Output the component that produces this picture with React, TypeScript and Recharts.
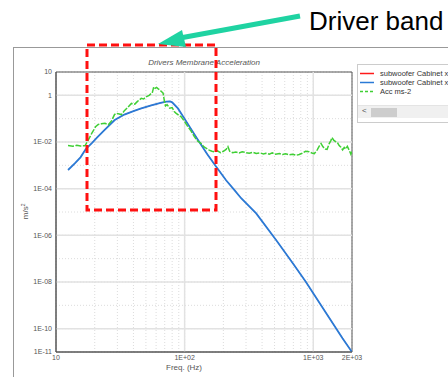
import React from "react";
import {
  LineChart,
  Line,
  XAxis,
  YAxis,
  CartesianGrid,
  ReferenceLine,
  ReferenceArea,
} from "recharts";

// frequency axis (Hz)
const xTicks = [10, 20, 30, 40, 50, 60, 70, 80, 90, 100, 200, 300, 400, 500, 600, 700, 800, 900, 1000, 2000];
const xTickLabels: Record<number, string> = { 10: "10", 100: "1E+02", 1000: "1E+03", 2000: "2E+03" };
const xMajor = [100, 1000];

// acceleration axis (m/s²)
const yTicks = [10, 1, 1e-1, 1e-2, 1e-3, 1e-4, 1e-5, 1e-6, 1e-7, 1e-8, 1e-9, 1e-10, 1e-11];
const yTickLabels = ["10", "1", "", "1E-02", "", "1E-04", "", "1E-06", "", "1E-08", "", "1E-10", "1E-11"];
const yMajor = [1, 1e-2, 1e-4, 1e-6, 1e-8, 1e-10];

// subwoofer cabinet (blue)
const cabFreq = [12.4, 14, 15.5, 17, 19, 21, 24, 28.6, 34, 40, 46, 55, 65, 72, 77, 80, 88.7, 100, 127, 150, 176, 210, 244, 275, 360, 514, 700, 877, 1200, 1687, 2000];
const cabAcc = [6.3e-4, 1.2e-3, 2.2e-3, 4.9e-3, 9e-3, 1.6e-2, 3.4e-2, 8.7e-2, 0.15, 0.21, 0.275, 0.37, 0.47, 0.54, 0.55, 0.5, 0.275, 0.098, 0.0123, 3.0e-3, 8.7e-4, 2.3e-4, 8.7e-5, 3.9e-5, 8.7e-6, 6.3e-7, 5.9e-8, 1.0e-8, 7e-10, 3.9e-11, 1e-11];

// measured Acc ms-2 (green)
const accFreq = [12.4, 13.5, 14.5, 15.5, 16.8, 17.8, 19, 20.3, 21.3, 22.5, 24, 25.5, 27, 28.5, 29.5, 31, 32.3, 34, 36, 38.6, 41, 43, 46, 48, 50, 53, 55, 56, 57.5, 59, 60.5, 62, 64, 66, 68, 69.5, 71, 73, 76.6, 80, 83, 86, 90, 94, 100, 106, 112, 119, 126, 134, 140, 147, 155, 163, 171, 180, 190, 200, 210, 217, 224, 236, 250, 265, 280, 300, 318, 340, 360, 385, 410, 428, 455, 480, 510, 545, 577, 610, 650, 690, 735, 777, 820, 870, 930, 975, 1020, 1070, 1110, 1150, 1190, 1240, 1280, 1330, 1370, 1400, 1440, 1490, 1540, 1590, 1640, 1690, 1740, 1790, 1840, 1900, 1960, 2000];
const accVal = [7.0e-3, 6.6e-3, 7.2e-3, 6.8e-3, 6.9e-3, 1.2e-2, 2.4e-2, 4.5e-2, 5.6e-2, 6.0e-2, 6.3e-2, 5.5e-2, 8.0e-2, 0.15, 0.17, 0.16, 0.15, 0.22, 0.3, 0.45, 0.42, 0.55, 0.74, 0.7, 0.85, 1.0, 1.2, 1.25, 2.3, 2.0, 2.2, 1.95, 1.7, 1.45, 1.25, 0.6, 0.35, 0.4, 0.28, 0.3, 0.2, 0.17, 0.14, 0.12, 0.075, 0.045, 0.03, 0.017, 0.011, 0.0087, 0.0065, 0.0054, 0.0045, 0.004, 0.0038, 0.0042, 0.0035, 0.004, 0.0048, 0.0063, 0.004, 0.0035, 0.0037, 0.0034, 0.0038, 0.0035, 0.0033, 0.0036, 0.0032, 0.0034, 0.0031, 0.0033, 0.003, 0.0034, 0.003, 0.0032, 0.0029, 0.0031, 0.0028, 0.003, 0.0027, 0.0029, 0.0033, 0.004, 0.0038, 0.0034, 0.0032, 0.0045, 0.0065, 0.0085, 0.0062, 0.005, 0.0048, 0.0085, 0.0115, 0.0155, 0.012, 0.0105, 0.0095, 0.007, 0.006, 0.0046, 0.0058, 0.005, 0.0065, 0.0045, 0.003, 0.004];

const cabData = cabFreq.map((f, i) => ({ f, v: cabAcc[i] }));
const accData = accFreq.map((f, i) => ({ f, v: accVal[i] }));

const legendItems = [
  { name: "subwoofer Cabinet x", color: "#ff1a1a", dash: "" },
  { name: "subwoofer Cabinet x", color: "#2a7ad6", dash: "" },
  { name: "Acc ms-2", color: "#3fcf34", dash: "3 2" },
];

const tickStyle = { fontSize: 7, fill: "#555", fontFamily: "Liberation Sans, Arial, sans-serif" };

export default function App() {
  return (
    <div style={{ position: "absolute", left: 0, top: 0, width: 448, height: 377, overflow: "hidden", background: "#fff", fontFamily: "Liberation Sans, Arial, sans-serif" }}>
      {/* outer panel frame */}
      <div style={{ position: "absolute", left: 13, top: 47, width: 460, height: 360, border: "1px solid #999" }} />
      <div style={{ position: "absolute", left: 56, top: 58, width: 296, textAlign: "center", fontSize: 8, fontStyle: "italic", color: "#555" }}>
        Drivers Membrane Acceleration
      </div>
      <LineChart width={448} height={377} margin={{ top: 72, right: 96, bottom: 0, left: 0 }} style={{ position: "absolute", left: 0, top: 0 }}>
        <CartesianGrid stroke="#dcdcdc" strokeDasharray="1 2" />
        <XAxis
          dataKey="f"
          type="number"
          scale="log"
          domain={[10, 2000]}
          allowDataOverflow
          ticks={xTicks}
          interval={0}
          tickFormatter={(v: number) => xTickLabels[v] ?? ""}
          tick={tickStyle}
          tickLine={false}
          tickSize={2}
          tickMargin={1}
          height={25}
          axisLine={{ stroke: "#555" }}
        />
        <YAxis
          type="number"
          scale="log"
          domain={[1e-11, 10]}
          allowDataOverflow
          ticks={yTicks}
          interval={0}
          tickFormatter={(v: number) => yTickLabels[yTicks.indexOf(v)] ?? ""}
          tick={tickStyle}
          tickLine={false}
          tickSize={2}
          tickMargin={2}
          width={56}
          axisLine={{ stroke: "#555" }}
        />
        {xMajor.map((x) => (
          <ReferenceLine key={"x" + x} x={x} stroke="#e2e2e2" strokeWidth={1.5} />
        ))}
        {yMajor.map((y) => (
          <ReferenceLine key={"y" + y} y={y} stroke="#e2e2e2" strokeWidth={1.5} />
        ))}
        <ReferenceArea x1={10} x2={2000} y1={1e-11} y2={10} fill="none" stroke="#555" strokeWidth={1} ifOverflow="visible" />
        <Line data={cabData} dataKey="v" stroke={legendItems[0].color} strokeWidth={0.8} dot={false} isAnimationActive={false} />
        <Line data={cabData} dataKey="v" stroke={legendItems[1].color} strokeWidth={1.8} dot={false} isAnimationActive={false} />
        <Line data={accData} dataKey="v" stroke={legendItems[2].color} strokeWidth={1.5} strokeDasharray="6 1.5" dot={false} isAnimationActive={false} />
      </LineChart>
      {/* axis titles */}
      <div style={{ position: "absolute", left: 5, top: 206, transform: "rotate(-90deg)", fontSize: 8, color: "#555", width: 40, textAlign: "center" }}>
        m/s<sup style={{ fontSize: 5 }}>2</sup>
      </div>
      <div style={{ position: "absolute", left: 56, top: 363, width: 256, textAlign: "center", fontSize: 8, color: "#555" }}>Freq. (Hz)</div>
      {/* legend panel */}
      <div style={{ position: "absolute", left: 357, top: 64, width: 100, height: 57, border: "1px solid #ccc", background: "#fff", overflow: "hidden" }}>
        {legendItems.map((it, i) => (
          <div key={i} style={{ position: "absolute", left: 0, top: 4 + i * 9, height: 9, display: "flex", alignItems: "center", whiteSpace: "nowrap", fontSize: 7.5, color: "#333" }}>
            <svg width={20} height={9}>
              <line x1={2} x2={16} y1={4.5} y2={4.5} stroke={it.color} strokeWidth={1.5} strokeDasharray={it.dash} />
            </svg>
            <span style={{ marginLeft: 2 }}>{it.name}</span>
          </div>
        ))}
        <div style={{ position: "absolute", left: 0, top: 40, width: 100, height: 12, background: "#f0f0f0", borderTop: "1px solid #e4e4e4" }}>
          <span style={{ position: "absolute", left: 4, top: 0, fontSize: 8, color: "#555" }}>&lt;</span>
          <div style={{ position: "absolute", left: 13, top: 2, width: 26, height: 9, background: "#cdcdcd" }} />
        </div>
      </div>
      {/* annotation overlay */}
      <svg width={448} height={377} style={{ position: "absolute", left: 0, top: 0 }}>
        <rect x={87} y={45} width={129} height={165} fill="none" stroke="#ff1010" strokeWidth={3} strokeDasharray="8 4" />
        <line x1={300} y1={16} x2={180} y2={38} stroke="#1fd3a2" strokeWidth={5} />
        <polygon points="158,44 182,30 186,47" fill="#1fd3a2" />
      </svg>
      <div style={{ position: "absolute", left: 309, top: 8, fontSize: 26, lineHeight: "26px", color: "#000", fontFamily: "Liberation Sans, Arial, sans-serif", whiteSpace: "nowrap" }}>
        Driver band
      </div>
    </div>
  );
}
